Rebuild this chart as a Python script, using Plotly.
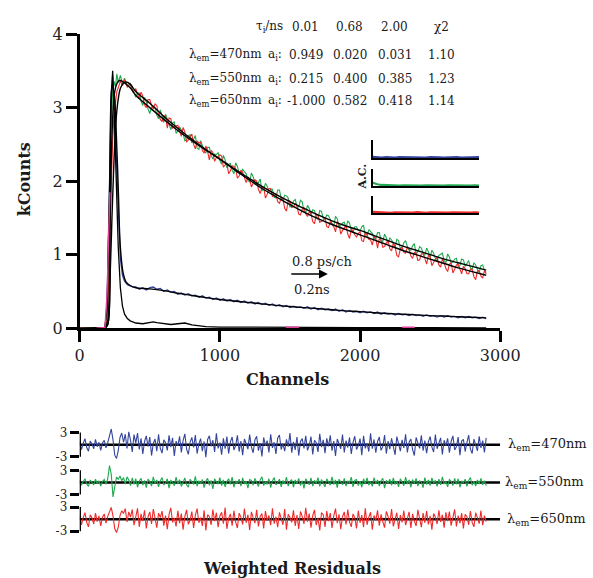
import plotly.graph_objects as go

W, H = 593, 578
FONT = "DejaVu Serif"

def px(x):
    return x / W

def py(y):
    return 1 - y / H

# ---------------- data ----------------
ch_early = [0, 120, 180, 195, 205, 215, 225, 235, 245, 255, 265, 275, 290, 305, 320, 340, 360, 380]
channels = ch_early + [c / 10 for c in range(4000, 29001, 125)]
ch_blue = ch_early + list(range(400, 2901, 25))

counts_470 = [0, 0, 0.01, 0.3, 1.1, 2.2, 3.2, 3.45, 3.1, 2.6, 2.0, 1.45, 0.95, 0.72, 0.64, 0.59, 0.57, 0.56,
    0.56, 0.53, 0.55, 0.52, 0.55, 0.56, 0.53, 0.54, 0.50, 0.52,
    0.49, 0.50, 0.46, 0.48, 0.45, 0.47, 0.44, 0.45, 0.42, 0.44,
    0.41, 0.42, 0.39, 0.41, 0.38, 0.40, 0.37, 0.39, 0.36, 0.38,
    0.35, 0.37, 0.34, 0.36, 0.33, 0.35, 0.32, 0.34, 0.31, 0.33,
    0.30, 0.32, 0.29, 0.31, 0.28, 0.30, 0.28, 0.29, 0.27, 0.29,
    0.26, 0.28, 0.25, 0.27, 0.25, 0.26, 0.24, 0.26, 0.23, 0.25,
    0.22, 0.24, 0.22, 0.23, 0.21, 0.23, 0.21, 0.22, 0.20, 0.22,
    0.19, 0.21, 0.19, 0.20, 0.18, 0.20, 0.18, 0.19, 0.17, 0.19,
    0.17, 0.18, 0.16, 0.18, 0.16, 0.17, 0.15, 0.17, 0.15, 0.17,
    0.15, 0.16, 0.14, 0.16, 0.14, 0.16, 0.14, 0.15, 0.13, 0.15,
    0.13]

counts_550 = [0, 0, 0.01, 0.2, 0.9, 1.9, 2.8, 3.2, 3.36, 3.28, 3.46, 3.34, 3.44, 3.33, 3.40, 3.29, 3.33, 3.22,
    3.14, 3.20, 3.20, 3.09, 3.03, 3.14, 3.08, 2.98, 2.92, 3.00,
    3.02, 3.00, 2.90, 2.85, 2.97, 2.89, 2.80, 2.91, 2.83, 2.75,
    2.70, 2.79, 2.81, 2.65, 2.68, 2.74, 2.70, 2.65, 2.55, 2.56,
    2.62, 2.63, 2.52, 2.57, 2.62, 2.45, 2.43, 2.55, 2.47, 2.42,
    2.38, 2.46, 2.46, 2.35, 2.30, 2.37, 2.36, 2.39, 2.28, 2.23,
    2.35, 2.29, 2.18, 2.23, 2.24, 2.15, 2.10, 2.25, 2.20, 2.11,
    2.10, 2.16, 2.13, 2.10, 2.01, 1.99, 2.11, 2.06, 1.96, 1.97,
    1.98, 2.03, 1.87, 1.89, 1.97, 1.93, 1.86, 1.89, 1.89, 1.78,
    1.77, 1.88, 1.88, 1.77, 1.74, 1.81, 1.80, 1.77, 1.65, 1.67,
    1.73, 1.75, 1.66, 1.65, 1.74, 1.72, 1.59, 1.57, 1.67, 1.63,
    1.55, 1.61, 1.60, 1.52, 1.48, 1.60, 1.59, 1.49, 1.48, 1.54,
    1.53, 1.48, 1.42, 1.39, 1.52, 1.49, 1.37, 1.40, 1.43, 1.44,
    1.36, 1.46, 1.43, 1.33, 1.30, 1.38, 1.38, 1.33, 1.32, 1.38,
    1.40, 1.25, 1.25, 1.34, 1.31, 1.29, 1.21, 1.22, 1.30, 1.30,
    1.20, 1.18, 1.28, 1.23, 1.15, 1.23, 1.20, 1.15, 1.10, 1.21,
    1.19, 1.08, 1.10, 1.16, 1.19, 1.11, 1.06, 1.06, 1.12, 1.15,
    1.01, 1.04, 1.11, 1.09, 1.02, 0.99, 1.09, 1.04, 0.96, 1.06,
    1.02, 0.95, 0.91, 0.99, 1.01, 1.02, 0.92, 0.89, 1.01, 0.97,
    0.89, 0.90, 0.94, 0.95, 0.84, 0.85, 0.94, 0.93, 0.84, 0.88,
    0.92, 0.82, 0.80, 0.89, 0.86, 0.80, 0.76, 0.85, 0.86, 0.79,
    0.76]

counts_650 = [0, 0, 0, 0.1, 0.5, 1.3, 2.0, 2.55, 2.9, 3.1, 3.22, 3.27, 3.36, 3.30, 3.38, 3.28, 3.32, 3.21,
    3.26, 3.18, 3.12, 3.21, 3.16, 3.04, 3.00, 3.11, 3.11, 3.03,
    2.98, 3.05, 3.03, 2.90, 2.84, 2.81, 2.89, 2.88, 2.72, 2.86,
    2.85, 2.72, 2.74, 2.75, 2.76, 2.67, 2.61, 2.73, 2.67, 2.53,
    2.56, 2.61, 2.64, 2.50, 2.44, 2.55, 2.52, 2.53, 2.42, 2.38,
    2.48, 2.40, 2.29, 2.42, 2.39, 2.27, 2.32, 2.33, 2.36, 2.34,
    2.19, 2.22, 2.25, 2.10, 2.14, 2.21, 2.20, 2.17, 2.04, 2.07,
    2.15, 2.12, 2.04, 1.98, 2.06, 2.03, 1.92, 1.96, 2.02, 2.00,
    1.89, 1.83, 1.91, 1.92, 1.77, 1.82, 1.90, 1.90, 1.79, 1.80,
    1.83, 1.72, 1.70, 1.77, 1.76, 1.63, 1.59, 1.74, 1.73, 1.64,
    1.65, 1.70, 1.66, 1.55, 1.54, 1.62, 1.64, 1.56, 1.52, 1.58,
    1.56, 1.45, 1.42, 1.55, 1.53, 1.44, 1.45, 1.47, 1.50, 1.38,
    1.37, 1.45, 1.42, 1.38, 1.31, 1.45, 1.42, 1.28, 1.33, 1.37,
    1.40, 1.28, 1.22, 1.35, 1.32, 1.27, 1.24, 1.29, 1.31, 1.19,
    1.18, 1.30, 1.27, 1.21, 1.20, 1.13, 1.25, 1.22, 1.09, 1.22,
    1.19, 1.10, 1.11, 1.16, 1.19, 1.08, 1.05, 1.16, 1.11, 0.99,
    0.97, 1.08, 1.10, 1.03, 1.02, 1.10, 1.08, 0.98, 0.95, 1.03,
    1.02, 0.92, 0.93, 1.01, 1.01, 0.95, 0.87, 0.99, 0.97, 0.85,
    0.90, 0.94, 0.96, 0.86, 0.83, 0.94, 0.89, 0.81, 0.77, 0.87,
    0.89, 0.75, 0.80, 0.86, 0.87, 0.80, 0.74, 0.84, 0.81, 0.74,
    0.74, 0.80, 0.80, 0.70, 0.66, 0.78, 0.78, 0.71, 0.68, 0.78,
    0.74]

ch_fit = [180, 200, 215, 230, 245, 260, 275, 290, 310, 330, 360, 400,
          500, 600, 700, 800, 900, 1000, 1100, 1200, 1300, 1400, 1500, 1600, 1700,
          1800, 1900, 2000, 2100, 2200, 2300, 2400, 2500, 2600, 2700, 2800, 2900]
fit_470 = [0, 0.05, 1.8, 3.3, 3.2, 2.7, 1.9, 1.1, 0.75, 0.63, 0.58, 0.55,
           0.535, 0.51, 0.475, 0.445, 0.415, 0.39, 0.37, 0.35, 0.33, 0.31, 0.295, 0.28, 0.265,
           0.25, 0.235, 0.225, 0.21, 0.20, 0.19, 0.18, 0.17, 0.165, 0.155, 0.148, 0.14]
fit_550 = [0, 0.1, 1.3, 2.6, 3.15, 3.3, 3.36, 3.37, 3.35, 3.32, 3.27, 3.17,
           3.00, 2.84, 2.69, 2.55, 2.42, 2.30, 2.17, 2.05, 1.93, 1.82, 1.72, 1.63, 1.54,
           1.46, 1.39, 1.33, 1.26, 1.19, 1.12, 1.06, 1.00, 0.94, 0.89, 0.84, 0.79]
fit_650 = [0, 0.05, 0.6, 1.5, 2.3, 2.85, 3.12, 3.26, 3.33, 3.35, 3.32, 3.22,
           3.06, 2.88, 2.72, 2.57, 2.43, 2.30, 2.16, 2.03, 1.90, 1.79, 1.68, 1.58, 1.49,
           1.41, 1.34, 1.27, 1.20, 1.13, 1.06, 1.00, 0.94, 0.88, 0.82, 0.77, 0.72]

ch_irf = [0, 120, 180, 195, 205, 215, 225, 235, 245, 255, 265, 275, 290, 305, 320, 340, 360, 380,
          400, 450, 500, 525, 550, 600, 650, 700, 750, 800, 850, 900,
          1000, 1200, 1500, 2000, 2500, 2900]
irf = [0, 0, 0.01, 0.25, 1.0, 2.1, 3.1, 3.5, 3.0, 2.4, 1.7, 1.1, 0.55, 0.3, 0.19, 0.13, 0.1, 0.08,
       0.07, 0.06, 0.075, 0.085, 0.075, 0.06, 0.05, 0.06, 0.07, 0.045, 0.03, 0.02,
       0.015, 0.012, 0.01, 0.008, 0.006, 0.005]

ch_magenta = [120, 180, 195, 205, 215, None, 1470, 1565, None, 2300, 2390]
magenta = [0, 0.01, 0.45, 1.15, 1.85, None, 0.012, 0.012, None, 0.012, 0.012]

ch_res = [c / 10 for c in range(0, 29001, 125)]
res_470 = [0.8, -1.2, 0.3, 1.5, -0.7, -1.6, 0.9, 0.2, -1.0, 1.3,
           -0.5, 0.6, -1.4, 0.4, 1.1, -0.8, 0.5, 2.4, 3.9, 1.2,
           -2.6, -3.4, -1.5, 1.8, 2.9, 0.6, 2.6, -0.9, 3.2, 1.1,
           -1.8, 2.5, 0.4, 2.9, -1.2, 1.6, -2.3, 0.8, 2.2, -0.5,
           1.9, -2.7, 0.3, 1.4, -1.6, 2.6, -0.9, -2.1, 1.2, 0.5,
           -1.4, 2.3, -0.6, 1.7, -2.8, 0.9, -0.3, 2.1, -1.9, 1.0,
           2.7, -1.1, -2.4, 0.6, 1.8, -0.7, 2.4, -2.2, 0.2, 1.5,
           -1.6, 0.8, -3.1, 1.3, 2.2, -0.4, 1.1, -1.8, 2.8, -0.9,
           0.5, -2.5, 1.6, -1.0, 2.0, -2.2, 0.7, 1.9, -1.3, -0.2,
           2.3, -1.7, 0.9, -2.6, 1.4, 0.3, -1.1, 2.5, -0.6, -2.0,
           1.2, 2.1, -1.5, 0.4, -2.9, 1.8, -0.3, 1.0, -1.9, 2.6,
           -0.8, 0.6, -2.3, 1.7, 2.4, -1.2, 0.2, -1.6, 1.3, -0.5,
           2.9, -2.0, 0.7, -1.3, 1.9, -2.7, 0.8, 1.5, -0.9, 2.2,
           -1.4, -0.2, 2.0, -2.4, 1.1, 0.5, -1.8, 2.7, -0.6, 1.2,
           -2.1, 1.6, -0.4, 2.3, -1.5, 0.9, -2.8, 1.4, 0.2, -1.0,
           2.5, -1.9, 1.0, -0.7, 1.8, -2.3, 0.6, 2.1, -1.2, -0.3,
           1.5, -2.6, 2.2, -0.9, 0.4, -1.7, 2.8, -1.0, 1.3, -2.0,
           0.8, 1.9, -1.4, -0.5, 2.4, -2.2, 0.9, -1.1, 1.6, -0.4,
           -2.5, 2.0, 0.3, -1.6, 1.2, -0.8, 2.6, -1.9, 0.6, 1.4,
           -1.2, -2.7, 1.8, 0.5, -0.9, 2.3, -1.5, 1.0, -2.1, 0.7,
           2.0, -0.6, -1.8, 2.5, -1.0, 0.4, 1.7, -2.4, 1.1, -0.3,
           1.6, -2.0, 0.8, 2.2, -1.3, -0.5, 1.9, -2.6, 0.9, 1.3,
           -1.7, 0.5, 2.4, -1.1, -2.2, 1.4, 0.2, -1.5, 2.1, -0.8,
           1.0, -1.9, 1.7]
res_550 = [0.5, -0.7, 0.2, 0.9, -0.4, -1.0, 0.6, 0.1, -0.6, 0.8,
           -0.3, 0.4, -0.9, 0.3, 0.7, -0.5, 0.9, 4.2, 2.0, -3.6,
           -1.5, 1.3, 0.8, 1.6, 0.4, 1.2, -0.4, 1.4, 0.6, -0.8,
           1.1, -0.5, 0.9, -1.2, 0.3, 1.0, -0.7, 0.5, -1.3, 0.8,
           0.2, -0.9, 1.4, -0.3, 0.6, -1.1, 0.4, 1.2, -0.6, -0.2,
           0.9, -1.4, 0.5, 0.1, -0.8, 1.3, -0.4, 0.7, -1.0, 0.3,
           1.1, -0.6, -1.2, 0.8, 0.2, -0.5, 1.5, -0.9, 0.4, -0.3,
           0.7, -1.3, 0.3, 1.0, -0.7, 0.5, -1.6, 0.9, 0.1, -0.4,
           1.2, -0.8, 0.6, -1.1, 0.2, 0.9, -0.5, 1.3, -1.2, 0.4,
           -0.3, 0.8, -0.9, 1.1, -0.4, 0.3, -1.4, 0.7, 0.5, -0.7,
           1.0, -0.2, -1.0, 0.6, 1.4, -0.8, 0.3, -0.5, 0.9, -1.3,
           0.4, 1.2, -0.6, -0.1, 0.8, -1.1, 0.5, -0.4, 1.3, -0.9,
           0.2, 0.7, -1.2, 0.6, -0.3, 1.0, -0.8, 0.4, -1.5, 0.9,
           0.3, -0.6, 1.1, -0.9, 0.5, -0.2, 1.2, -1.0, 0.7, -0.4,
           -1.1, 0.9, 0.2, -0.7, 1.4, -0.5, 0.6, -1.3, 0.8, 0.1,
           -0.6, 1.0, -0.9, 0.4, -0.2, 1.3, -1.1, 0.5, 0.7, -0.8,
           0.3, -1.2, 0.9, -0.4, 1.1, -0.7, 0.2, -1.0, 1.2, -0.3,
           0.6, -0.9, 0.4, 1.0, -1.4, 0.5, -0.2, 0.8, -0.7, 1.1,
           -0.5, 0.3, -1.1, 0.9, 0.2, -0.8, 1.3, -0.4, 0.6, -1.2,
           0.7, -0.3, 1.0, -0.9, 0.4, 0.1, -1.3, 1.2, -0.5, 0.6,
           -0.8, 1.1, -0.2, 0.5, -1.0, 0.8, -0.6, 1.4, -0.4, 0.2,
           -1.1, 0.7, 0.3, -0.8, 1.0, -0.5, 0.9, -1.2, 0.4, -0.1,
           0.8, -1.0, 0.5, 1.2, -0.7, 0.3, -0.9, 0.6, -0.4, 1.0,
           -0.6, 0.4, -0.8]
res_650 = [0.9, -1.4, 0.4, 1.6, -0.8, -1.9, 1.1, 0.3, -1.2, 1.5,
           -0.6, 0.8, -1.7, 0.5, 1.3, -1.0, 0.7, 1.9, 2.9, 0.8,
           -2.4, -3.3, -2.0, 0.9, 2.1, 1.4, 2.6, -0.7, 1.8, 0.5,
           2.4, -1.5, 1.0, 2.7, -1.9, 1.3, -0.4, 2.2, -2.3, 0.6,
           1.8, -1.2, 2.5, -0.3, -2.1, 1.5, 0.4, 2.0, -1.6, 0.9,
           -2.5, 1.2, 2.8, -0.8, 0.3, -1.8, 2.1, -1.0, 1.4, -2.6,
           0.7, 2.3, -1.3, -0.2, 1.9, -2.2, 1.0, 2.6, -0.9, 0.4,
           -1.7, 2.2, -2.8, 1.1, 0.6, -1.4, 2.4, -0.5, 1.6, -2.0,
           0.8, 1.7, -1.1, 2.9, -2.4, 0.2, 1.3, -1.6, 2.1, -0.7,
           -2.2, 1.5, 0.5, -1.3, 2.6, -0.9, 1.1, -2.7, 1.8, 0.3,
           -1.0, 2.3, -1.8, 0.7, 1.4, -2.3, 2.0, -0.4, 0.9, -1.5,
           2.7, -1.1, 0.6, -2.0, 1.7, 0.2, -1.4, 2.5, -2.6, 1.2,
           0.4, -0.8, 2.2, -1.7, 1.0, -2.4, 1.9, 0.7, -1.2, 2.8,
           -0.6, 1.4, -2.1, 0.9, 2.3, -1.5, 0.3, -2.8, 1.6, 1.1,
           -1.9, 2.0, -0.5, 1.5, -2.2, 0.8, 2.6, -1.0, 1.2, -2.5,
           0.6, 1.8, -1.3, 2.4, -0.7, -1.9, 1.3, 0.4, -2.3, 2.1,
           -0.9, 1.0, -2.0, 2.7, -1.4, 0.5, 1.7, -2.6, 0.9, -0.3,
           2.2, -1.6, 1.2, -0.6, -2.1, 1.9, 0.7, -1.1, 2.5, -1.8,
           0.3, 1.6, -2.4, 1.0, -0.8, 2.1, -1.5, 0.6, 1.8, -2.2,
           1.3, -0.4, -1.7, 2.3, 0.2, -2.0, 1.5, -0.9, 2.0, -1.3,
           0.8, -2.6, 1.4, 0.5, -1.2, 2.2, -0.7, 1.1, -2.1, 1.7,
           -0.5, 1.9, -1.6, 0.3, 2.4, -1.8, 0.9, -1.0, 1.5, -2.3,
           1.2, 0.6, -1.4, 2.0, -0.8, -1.9, 1.6, 0.4, -1.1, 2.1,
           -1.5, 0.9, -0.6]

lags = list(range(25))
ac_470 = [0.03, 0.01, -0.01, 0.02, 0.0, -0.01, 0.01, 0.0, 0.02, -0.01, 0.01, 0.0, -0.01,
          0.01, 0.02, 0.0, -0.01, 0.01, 0.0, 0.01, -0.01, 0.0, 0.01, 0.0, 0.01]
ac_550 = [0.16, 0.07, 0.03, 0.01, 0.02, 0.0, -0.01, 0.01, 0.0, 0.01, -0.01, 0.0, 0.01,
          0.0, 0.01, -0.01, 0.0, 0.01, 0.0, -0.01, 0.01, 0.0, 0.0, 0.01, 0.0]
ac_650 = [0.04, 0.02, 0.0, 0.01, -0.01, 0.01, 0.0, 0.01, -0.01, 0.0, 0.02, 0.0, -0.01,
          0.01, 0.0, 0.01, -0.01, 0.0, 0.01, 0.0, 0.01, -0.01, 0.0, 0.01, 0.0]

tau_header = ["0.01", "0.68", "2.00", "\u03c72"]
row_labels = ["470nm", "550nm", "650nm"]
amps = [["0.949", "0.020", "0.031", "1.10"],
        ["0.215", "0.400", "0.385", "1.23"],
        ["-1.000", "0.582", "0.418", "1.14"]]

x_ticks = [0, 1000, 2000, 3000]
y_ticks = [0, 1, 2, 3, 4]
res_ticks = [-3, 3]

BLUE = "#34449c"
GREEN = "#1fa84f"
RED = "#ee2a2a"
MAGENTA = "#e2419b"
TXT = "#1a1a1a"

fig = go.Figure()

fig.add_trace(go.Scatter(x=ch_blue, y=counts_470, mode="lines", line=dict(color=BLUE, width=1.3), xaxis="x", yaxis="y"))
fig.add_trace(go.Scatter(x=channels, y=counts_550, mode="lines", line=dict(color=GREEN, width=1.1), xaxis="x", yaxis="y"))
fig.add_trace(go.Scatter(x=channels, y=counts_650, mode="lines", line=dict(color=RED, width=1.1), xaxis="x", yaxis="y"))
for f in (fit_470, fit_550, fit_650):
    fig.add_trace(go.Scatter(x=ch_fit, y=f, mode="lines", line=dict(color="black", width=1.4, shape="spline"), xaxis="x", yaxis="y"))
fig.add_trace(go.Scatter(x=ch_irf, y=irf, mode="lines", line=dict(color="black", width=1.3), xaxis="x", yaxis="y"))
fig.add_trace(go.Scatter(x=ch_magenta, y=magenta, mode="lines", line=dict(color=MAGENTA, width=1.4), xaxis="x", yaxis="y", connectgaps=False))

res_sets = [(res_470, BLUE, 450.5), (res_550, GREEN, 489.5), (res_650, RED, 527.5)]
half = 20.0
for i, (res, col, cy) in enumerate(res_sets):
    k = i + 2
    fig.add_trace(go.Scatter(x=[0, 3000], y=[0, 0], mode="lines", line=dict(color="black", width=2.5),
                             xaxis=f"x{k}", yaxis=f"y{k}"))
    fig.add_trace(go.Scatter(x=ch_res, y=res, mode="lines", line=dict(color=col, width=1.1),
                             xaxis=f"x{k}", yaxis=f"y{k}"))

inset_sets = [(ac_470, BLUE, 135, 154), (ac_550, GREEN, 165, 183), (ac_650, RED, 193, 211)]
for i, (ac, col, top, bot) in enumerate(inset_sets):
    k = i + 5
    fig.add_trace(go.Scatter(x=lags, y=ac, mode="lines", line=dict(color=col, width=2.2),
                             xaxis=f"x{k}", yaxis=f"y{k}"))

axis_common = dict(showgrid=False, zeroline=False, color="black")
layout = dict(
    width=W, height=H, margin=dict(l=0, r=0, t=0, b=0),
    paper_bgcolor="white", plot_bgcolor="rgba(0,0,0,0)", showlegend=False,
    font=dict(family=FONT, color=TXT),
    xaxis=dict(domain=[px(78), px(517)], range=[0, 3000], tickvals=x_ticks, showline=True,
               linewidth=2.5, linecolor="black", ticks="outside", ticklen=11, tickwidth=2.5,
               tickcolor="black", tickfont=dict(size=16, family=FONT, color="#222"), anchor="y",
               **axis_common),
    yaxis=dict(domain=[py(330), py(26)], range=[0, 4], tickvals=y_ticks, showline=True,
               linewidth=2.5, linecolor="black", ticks="outside", ticklen=11, tickwidth=2.5,
               tickcolor="black", tickfont=dict(size=16, family=FONT, color="#222"), anchor="x",
               **axis_common),
)
shapes = []
for i, (res, col, cy) in enumerate(res_sets):
    k = i + 2
    layout[f"xaxis{k}"] = dict(domain=[px(78), px(517)], range=[0, 3000], visible=False, anchor=f"y{k}")
    layout[f"yaxis{k}"] = dict(domain=[py(cy + half), py(cy - half)], range=[-4.8, 4.8],
                               tickvals=res_ticks, ticktext=[str(t) for t in res_ticks],
                               ticks="outside", ticklen=9, tickwidth=2.5, tickcolor="black",
                               showline=False, tickfont=dict(size=12, family=FONT, color="#222"),
                               anchor=f"x{k}", **axis_common)
    shapes.append(dict(type="line", xref=f"x{k}", yref=f"y{k}", x0=0, x1=0,
                       y0=res_ticks[0], y1=res_ticks[1], line=dict(color="black", width=2.5)))

for i, (ac, col, top, bot) in enumerate(inset_sets):
    k = i + 5
    layout[f"xaxis{k}"] = dict(domain=[px(384), px(495)], range=[0, 24], showline=True, linewidth=2,
                               linecolor="black", showticklabels=False, ticks="", anchor=f"y{k}",
                               layer="below traces", **axis_common)
    layout[f"yaxis{k}"] = dict(domain=[py(bot), py(top)], range=[-0.03, 1], showline=True, linewidth=2,
                               linecolor="black", showticklabels=False, ticks="", anchor=f"x{k}",
                               layer="below traces", **axis_common)

layout["shapes"] = shapes

ann = []
def text(t, x, y, size=12, xanchor="center", bold=False, **kw):
    s = f"<b>{t}</b>" if bold else t
    ann.append(dict(text=s, x=px(x), y=py(y), xref="paper", yref="paper", showarrow=False,
                    xanchor=xanchor, yanchor="middle", font=dict(size=size, family=FONT, color=TXT), **kw))

text("kCounts", 20, 176, size=16, bold=True, textangle=-90)
text("Channels", 295, 383, size=16, bold=True)
text("Weighted Residuals", 300, 578, size=16, bold=True)
text("A.C.", 373, 173, size=11, bold=True, textangle=-90)

col_x = [314, 360, 407, 456]
text("\u03c4<sub>i</sub>/ns", 292, 19, xanchor="right")
for cx, h in zip(col_x, tau_header):
    text(h, cx, 19)
row_y = [48, 72, 95]
for ry, lab, vals in zip(row_y, row_labels, amps):
    text(f"\u03bb<sub>em</sub>={lab}", 190, ry, xanchor="left")
    text("a<sub>i</sub>:", 273, ry, xanchor="left")
    for cx, v in zip(col_x, vals):
        text(v, cx, ry)

text("0.8 ps/ch", 298, 261, size=13, xanchor="left")
text("0.2ns", 300, 290, size=13, xanchor="left")
ann.append(dict(x=px(337), y=py(274), ax=-38, ay=0, xref="paper", yref="paper",
                axref="pixel", ayref="pixel", text="", showarrow=True, arrowhead=2,
                arrowsize=1.1, arrowwidth=1.6, arrowcolor="black"))

for lab, (res, col, cy), lx in zip(row_labels, res_sets, [523, 520, 522]):
    text(f"\u03bb<sub>em</sub>={lab}", lx, cy, size=13, xanchor="left")

layout["annotations"] = ann
fig.update_layout(**layout)
fig.write_html("out.html")
